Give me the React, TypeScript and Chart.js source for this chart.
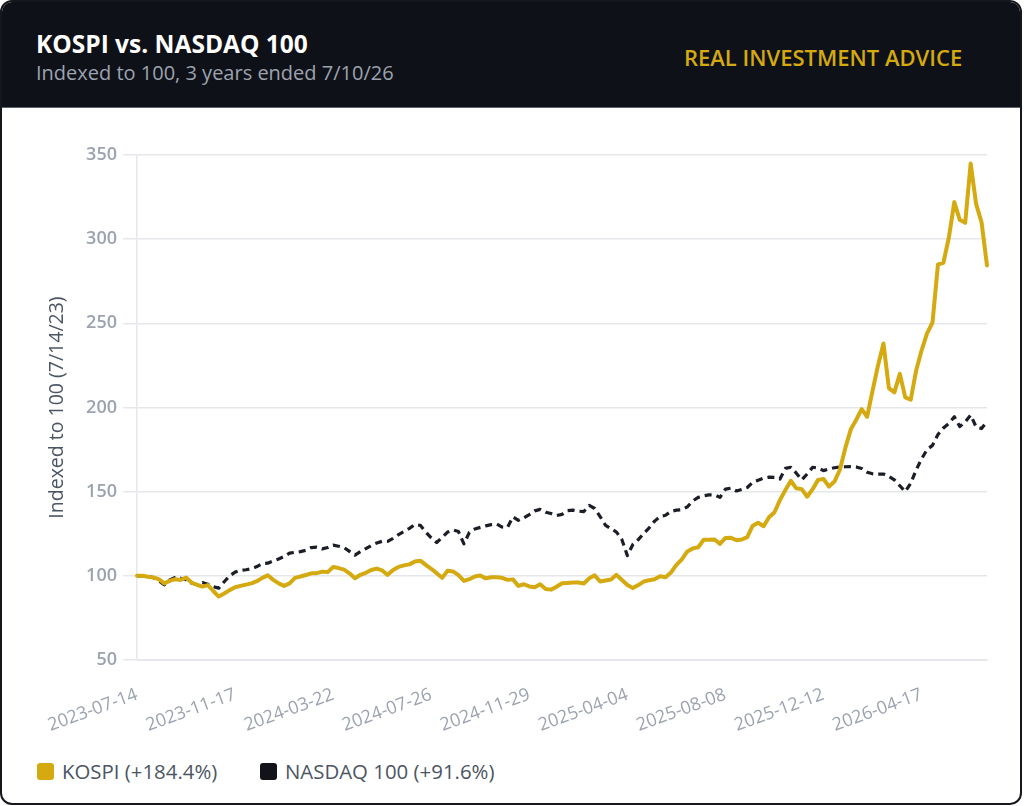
import React, { useEffect, useRef } from "react";
import { Chart, registerables } from "chart.js";

Chart.register(...registerables);

// ---- Data ----
const START_DATE = "2023-07-14";
const WEEK_COUNT = 157;

function weeklyDates(start: string, n: number): string[] {
  const out: string[] = [];
  const t0 = new Date(start + "T00:00:00Z").getTime();
  for (let i = 0; i < n; i++) {
    out.push(new Date(t0 + i * 7 * 86400000).toISOString().slice(0, 10));
  }
  return out;
}

const DATES = weeklyDates(START_DATE, WEEK_COUNT);

const TICK_LABELS = [
  "2023-07-14",
  "2023-11-17",
  "2024-03-22",
  "2024-07-26",
  "2024-11-29",
  "2025-04-04",
  "2025-08-08",
  "2025-12-12",
  "2026-04-17",
];

const Y_TICKS = [50, 100, 150, 200, 250, 300, 350];

const KOSPI = [
  100, 100, 99.5, 99, 98, 95.5, 97, 98, 97.5, 99,
  96, 94.7, 93.6, 94.5, 91, 87.7, 89.5, 91.5, 93.2, 94,
  94.8, 95.5, 96.8, 98.8, 100.3, 97.6, 95.5, 94, 95.5, 98.8,
  99.6, 100.5, 101.5, 101.6, 102.5, 102.2, 105.2, 104.6, 103.7, 101.5,
  98.6, 100.6, 101.8, 103.5, 104.3, 103.2, 100.6, 103.5, 105.3, 106.2,
  106.8, 108.5, 109, 106.5, 104.2, 101.6, 98.8, 103, 102.6, 100.4,
  97, 98, 99.6, 100.2, 98.5, 99.2, 99.2, 98.8, 97.6, 97.9,
  94, 95, 93.7, 93.2, 95, 92.2, 91.8, 93.5, 95.6, 95.8,
  96, 96, 95.5, 98.5, 100.3, 96.6, 97.2, 97.8, 100.6, 97.5,
  94.5, 92.7, 94.5, 96.6, 97.4, 98, 99.8, 99.2, 102, 106.5,
  109.8, 114.5, 116.3, 117, 121.4, 121.5, 121.6, 119, 122.5, 122.6,
  121.2, 121.6, 123, 129.8, 131.5, 129.5, 134.8, 137.8, 145, 151,
  156.5, 152, 151.5, 147, 151.5, 157, 157.5, 153, 156, 163,
  176, 187, 192.7, 199, 194.5, 210, 225, 238, 211.5, 209,
  220, 206, 204.6, 222, 234, 244, 250.5, 285, 286, 301,
  322, 311.5, 309.7, 345, 321, 310, 284.4,
];

const NASDAQ = [
  100, 100, 99.8, 99, 97, 94.7, 97.6, 99, 98.6, 97.8,
  95.7, 94.7, 96, 95, 93.6, 92.7, 96.5, 100, 102.2, 103.2,
  103.6, 104.2, 105.5, 107.3, 107.5, 108.8, 110, 111.5, 113.5, 114,
  114.4, 115.2, 116.8, 117, 116, 116.8, 118.2, 117.6, 116.8, 114.5,
  112.3, 114.4, 116.2, 118, 119.5, 120.5, 120.5, 122.3, 124.5, 126.3,
  128.2, 130.5, 130, 126, 122.5, 119.8, 122.8, 126, 127.2, 126.3,
  119, 125.8, 127.8, 128.8, 129.7, 130.4, 130.9, 129, 128.8, 135,
  133, 134.5, 136.4, 138.6, 139.5, 137.8, 137, 135.8, 136.5, 138.7,
  139, 138.4, 138.2, 141.8, 140, 135.2, 130, 128, 126, 121.5,
  112, 118.6, 121.5, 125.2, 128.5, 132.5, 135.2, 136, 138.3, 139,
  139.3, 141, 144.5, 146.6, 147.5, 148.1, 148.1, 146.6, 151.5, 152.1,
  150.4, 151.3, 152.5, 155.5, 156.8, 158, 158.6, 158.5, 157.5, 163.8,
  164.5, 161, 157, 160.5, 164.5, 164, 162.5, 163.5, 164.2, 164.6,
  164.8, 164.9, 164.7, 163.8, 161.5, 160.6, 160.4, 160.5, 159, 157,
  153.5, 150, 155, 163, 169.5, 175, 177.5, 184, 187.8, 190.5,
  194.5, 188.7, 191.5, 195.5, 188.5, 187.5, 191.6,
];

const SERIES_NAMES = ["KOSPI (+184.4%)", "NASDAQ 100 (+91.6%)"];

// ---- Styles ----
const GOLD = "#d4aa10";
const DARK = "#1b1e27";
const GRID = "#e6e7eb";
const TICK_COLOR = "#9ca3af";
const FONT = "'Open Sans', 'Noto Sans', sans-serif";

Chart.defaults.font.family = FONT;

export default function App() {
  const canvasRef = useRef<HTMLCanvasElement>(null);

  useEffect(() => {
    const canvas = canvasRef.current;
    if (!canvas) return;
    const chart = new Chart(canvas, {
      type: "line",
      data: {
        labels: DATES,
        datasets: [
          {
            label: SERIES_NAMES[0],
            data: KOSPI,
            borderColor: GOLD,
            backgroundColor: GOLD,
            borderWidth: 4,
            borderJoinStyle: "round",
            borderCapStyle: "round",
            pointRadius: 0,
            tension: 0,
          },
          {
            label: SERIES_NAMES[1],
            data: NASDAQ,
            borderColor: DARK,
            backgroundColor: DARK,
            borderWidth: 3.2,
            borderDash: [7, 5],
            borderJoinStyle: "round",
            pointRadius: 0,
            tension: 0,
          },
        ],
      },
      options: {
        responsive: false,
        animation: false,
        layout: { padding: { top: 47, left: 40, right: 33, bottom: 0 } },
        plugins: {
          legend: { display: false },
          tooltip: { enabled: false },
        },
        scales: {
          x: {
            grid: { display: false },
            border: { display: true, color: GRID },
            ticks: {
              autoSkip: false,
              minRotation: 20,
              maxRotation: 20,
              padding: 16,
              color: TICK_COLOR,
              font: { size: 18 },
              callback: (_v: any, i: number) =>
                TICK_LABELS.includes(DATES[i]) ? DATES[i] : null,
            },
            afterFit: (s: any) => {
              s.height = 88;
            },
          },
          y: {
            min: Y_TICKS[0],
            max: Y_TICKS[Y_TICKS.length - 1],
            ticks: {
              stepSize: 50,
              padding: 6,
              color: TICK_COLOR,
              font: { size: 18, weight: "600" },
            },
            grid: { color: GRID, tickLength: 14, lineWidth: 1.5 },
            border: { display: true, color: GRID, width: 1.5 },
            title: {
              display: true,
              text: "Indexed to 100 (7/14/23)",
              color: "#4b5563",
              font: { size: 19.5 },
            },
            afterFit: (s: any) => {
              s.width = 95;
            },
          },
        },
      },
    } as any);
    return () => chart.destroy();
  }, []);

  const legendItem = (name: string, color: string, left: number) => (
    <div
      key={name}
      style={{
        position: "absolute",
        left,
        top: 757,
        height: 24,
        display: "flex",
        alignItems: "center",
      }}
    >
      <span
        style={{
          width: 17,
          height: 17,
          borderRadius: 3,
          background: color,
          display: "inline-block",
        }}
      />
      <span
        style={{
          marginLeft: 8,
          fontSize: 20.4,
          lineHeight: "24px",
          color: "#4b5563",
          fontFamily: FONT,
        }}
      >
        {name}
      </span>
    </div>
  );

  return (
    <>
      <style>{`body{margin:0;background:#fff;}`}</style>
      <div
        style={{
          position: "absolute",
          left: 0,
          top: 0,
          width: 1022,
          height: 805,
          boxSizing: "border-box",
          border: "2px solid #15171c",
          borderRadius: 12,
          overflow: "hidden",
          background: "#fff",
          fontFamily: FONT,
        }}
      >
        <div
          style={{
            position: "absolute",
            left: 0,
            top: 0,
            right: 0,
            height: 105,
            background: "#0f1118",
            borderBottom: "1px solid #5b6270",
          }}
        >
          <div
            style={{
              position: "absolute",
              left: 34,
              top: 29.5,
              fontSize: 24.5,
              lineHeight: "24.5px",
              fontWeight: 700,
              color: "#ffffff",
              whiteSpace: "nowrap",
            }}
          >
            KOSPI vs. NASDAQ 100
          </div>
          <div
            style={{
              position: "absolute",
              left: 34,
              top: 61,
              fontSize: 20,
              lineHeight: "20px",
              color: "#9ca3af",
              whiteSpace: "nowrap",
            }}
          >
            Indexed to 100, 3 years ended 7/10/26
          </div>
          <div
            style={{
              position: "absolute",
              left: 682,
              top: 43.5,
              fontSize: 22,
              lineHeight: "22px",
              fontWeight: 600,
              color: GOLD,
              whiteSpace: "nowrap",
            }}
          >
            REAL INVESTMENT ADVICE
          </div>
        </div>
        <div style={{ position: "absolute", left: 0, top: 106, width: 1018, height: 640 }}>
          <canvas ref={canvasRef} width={1018} height={640} />
        </div>
        {legendItem(SERIES_NAMES[0], GOLD, 35)}
        {legendItem(SERIES_NAMES[1], "#111318", 258)}
      </div>
    </>
  );
}
